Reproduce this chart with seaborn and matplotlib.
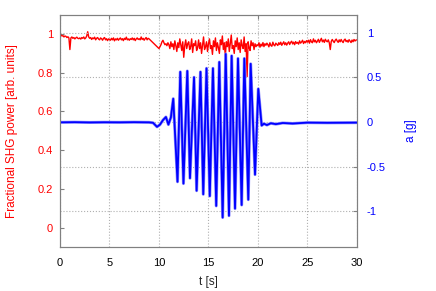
import numpy as np
import matplotlib
matplotlib.use("Agg")
import matplotlib.pyplot as plt
import pandas as pd
import seaborn as sns

# fractional SHG power, one sample every 0.1 s from 0 to 30 s
shg_power = [
    1.00, 0.995, 0.99, 0.992, 0.985, 0.99, 0.988, 0.982, 0.986, 0.98,
    0.92, 0.98, 0.985, 0.978, 0.982, 0.975, 0.98, 0.984, 0.978, 0.976,
    0.98, 0.974, 0.982, 0.978, 0.985, 0.975, 0.98, 0.99, 1.012, 0.985,
    0.978, 0.982, 0.972, 0.98, 0.976, 0.984, 0.97, 0.978, 0.982, 0.974,
    0.97, 0.98, 0.976, 0.968, 0.978, 0.982, 0.97, 0.976, 0.966, 0.975,
    0.972, 0.968, 0.978, 0.97, 0.98, 0.965, 0.975, 0.97, 0.978, 0.968,
    0.975, 0.98, 0.97, 0.976, 0.966, 0.978, 0.972, 0.984, 0.97, 0.975,
    0.968, 0.976, 0.972, 0.98, 0.97, 0.978, 0.966, 0.975, 0.98, 0.972,
    0.976, 0.97, 0.985, 0.972, 0.978, 0.968, 0.976, 0.982, 0.97, 0.978,
    0.975, 0.97, 0.965, 0.96, 0.955, 0.95, 0.945, 0.94, 0.935, 0.93,
    0.925, 0.935, 0.945, 0.96, 0.968, 0.955, 0.945, 0.95, 0.94, 0.955,
    0.945, 0.925, 0.96, 0.935, 0.95, 0.92, 0.965, 0.94, 0.91, 0.955,
    0.93, 0.975, 0.945, 0.915, 0.96, 0.88, 0.94, 0.97, 0.925, 0.95,
    0.96, 0.92, 0.935, 0.975, 0.905, 0.95, 0.94, 0.965, 0.915, 0.93,
    0.97, 0.925, 0.955, 0.90, 0.945, 0.985, 0.92, 0.935, 0.96, 0.91,
    0.95, 0.975, 0.925, 0.94, 0.895, 0.965, 0.935, 0.98, 0.915, 0.955,
    0.93, 0.90, 0.97, 0.945, 0.99, 0.92, 0.955, 0.885, 0.96, 0.935,
    0.975, 0.91, 0.95, 0.995, 0.925, 0.94, 0.90, 0.965, 0.935, 0.98,
    0.92, 0.955, 0.905, 0.97, 0.94, 0.925, 0.985, 0.91, 0.95, 0.78,
    0.96, 0.93, 0.915, 0.965, 0.94, 0.955, 0.92, 0.95, 0.935, 0.945,
    0.94, 0.955, 0.932, 0.948, 0.938, 0.956, 0.935, 0.95, 0.942, 0.953,
    0.945, 0.934, 0.955, 0.941, 0.937, 0.958, 0.944, 0.939, 0.953, 0.947,
    0.941, 0.955, 0.946, 0.958, 0.942, 0.951, 0.96, 0.945, 0.955, 0.943,
    0.953, 0.96, 0.946, 0.957, 0.963, 0.949, 0.958, 0.945, 0.961, 0.952,
    0.957, 0.948, 0.965, 0.953, 0.959, 0.968, 0.951, 0.962, 0.955, 0.966,
    0.958, 0.968, 0.953, 0.971, 0.96, 0.955, 0.975, 0.96, 0.968, 0.955,
    0.963, 0.973, 0.957, 0.968, 0.978, 0.96, 0.969, 0.957, 0.973, 0.964,
    0.96, 0.97, 0.955, 0.92, 0.962, 0.972, 0.963, 0.956, 0.968, 0.974,
    0.964, 0.957, 0.97, 0.96, 0.972, 0.962, 0.956, 0.969, 0.974, 0.961,
    0.967, 0.958, 0.971, 0.963, 0.956, 0.969, 0.96, 0.972, 0.964, 0.969,
    0.97,
]
shg_time = np.linspace(0, 30, len(shg_power))

# acceleration: baseline, peaks and troughs
acc_time = [0, 1.5, 3, 4.5, 6, 7.5, 9, 9.4, 9.8, 10.1, 10.4, 10.7, 10.95, 11.2,
            11.44, 11.87, 12.15, 12.47, 12.86, 13.13, 13.54, 13.8, 14.19, 14.47,
            14.8, 15.13, 15.45, 15.78, 16.09, 16.43, 16.74, 17.07, 17.34, 17.68,
            17.98, 18.35, 18.62, 19.02, 19.26, 19.7, 20.03, 20.37, 20.6, 20.9,
            21.3, 21.8, 22.5, 23.5, 25, 27, 30]
acc_g = [-0.005, -0.003, -0.006, -0.004, -0.005, -0.003, -0.005, -0.01, -0.055,
         -0.03, 0.02, 0.055, -0.03, 0.05,
         0.26, -0.67, 0.56, -0.69, 0.57, -0.63, 0.50, -0.77, 0.56, -0.81,
         0.60, -0.83, 0.60, -0.94, 0.67, -1.07, 0.76, -1.05, 0.74, -0.97,
         0.71, -0.93, 0.71, -0.87, 0.65, -0.59, 0.37, -0.04, -0.02, -0.035,
         -0.015, -0.025, -0.012, -0.018, -0.008, -0.01, -0.008]

df_shg = pd.DataFrame({"t": shg_time, "p": shg_power})
df_acc = pd.DataFrame({"t": acc_time, "a": acc_g})

sns.set_style("white")
plt.rcParams['font.family'] = ['Liberation Sans', 'DejaVu Sans']

fig = plt.figure(figsize=(4.36, 2.91), dpi=100)
ax = fig.add_axes([0.1376, 0.1512, 0.6812, 0.7983])
ax2 = ax.twinx()

sns.lineplot(data=df_shg, x="t", y="p", ax=ax, color="#ff0000", linewidth=1.0)
# light blue halo under the trace, like the dense sampling in the original
sns.lineplot(data=df_acc, x="t", y="a", ax=ax2, color="#9090ff", linewidth=2.2)
sns.lineplot(data=df_acc, x="t", y="a", ax=ax2, color="#0000ff", linewidth=1.3)

ax.set_xlim(0, 30)
ax.set_ylim(-0.1, 1.1)
ax2.set_ylim(-1.4, 1.2)
ax.set_xticks([0, 5, 10, 15, 20, 25, 30])
ax.set_yticks([0, 0.2, 0.4, 0.6, 0.8, 1])
ax.set_yticklabels(["0", "0.2", "0.4", "0.6", "0.8", "1"])
ax2.set_yticks([-1, -0.5, 0, 0.5, 1])
ax2.set_yticklabels(["-1", "-0.5", "0", "0.5", "1"])

for a in (ax, ax2):
    for s in a.spines.values():
        s.set_color("#808080")
        s.set_linewidth(0.8)

ax.xaxis.grid(True, linestyle=":", color="#b0b0b0", linewidth=0.8)
ax2.yaxis.grid(True, linestyle=":", color="#b0b0b0", linewidth=0.8)
ax.set_axisbelow(True)

ax.tick_params(axis="x", direction="in", top=True, length=3, pad=8,
               labelsize=8, colors="#808080", labelcolor="black")
ax.tick_params(axis="y", direction="in", length=3, pad=5,
               labelsize=8, colors="#808080", labelcolor="#ff0000")
ax2.tick_params(axis="y", direction="in", length=3, pad=7,
                labelsize=8, colors="#808080", labelcolor="#0000ff")

ax.set_xlabel("t [s]", fontsize=8.5, labelpad=6)
ax.set_ylabel("Fractional SHG power [arb. units]", color="#ff0000", fontsize=8.5, labelpad=14)
ax2.set_ylabel("a [g]", color="#0000ff", fontsize=8.5, rotation=90, labelpad=14)

fig.savefig("out.png", dpi=100)
